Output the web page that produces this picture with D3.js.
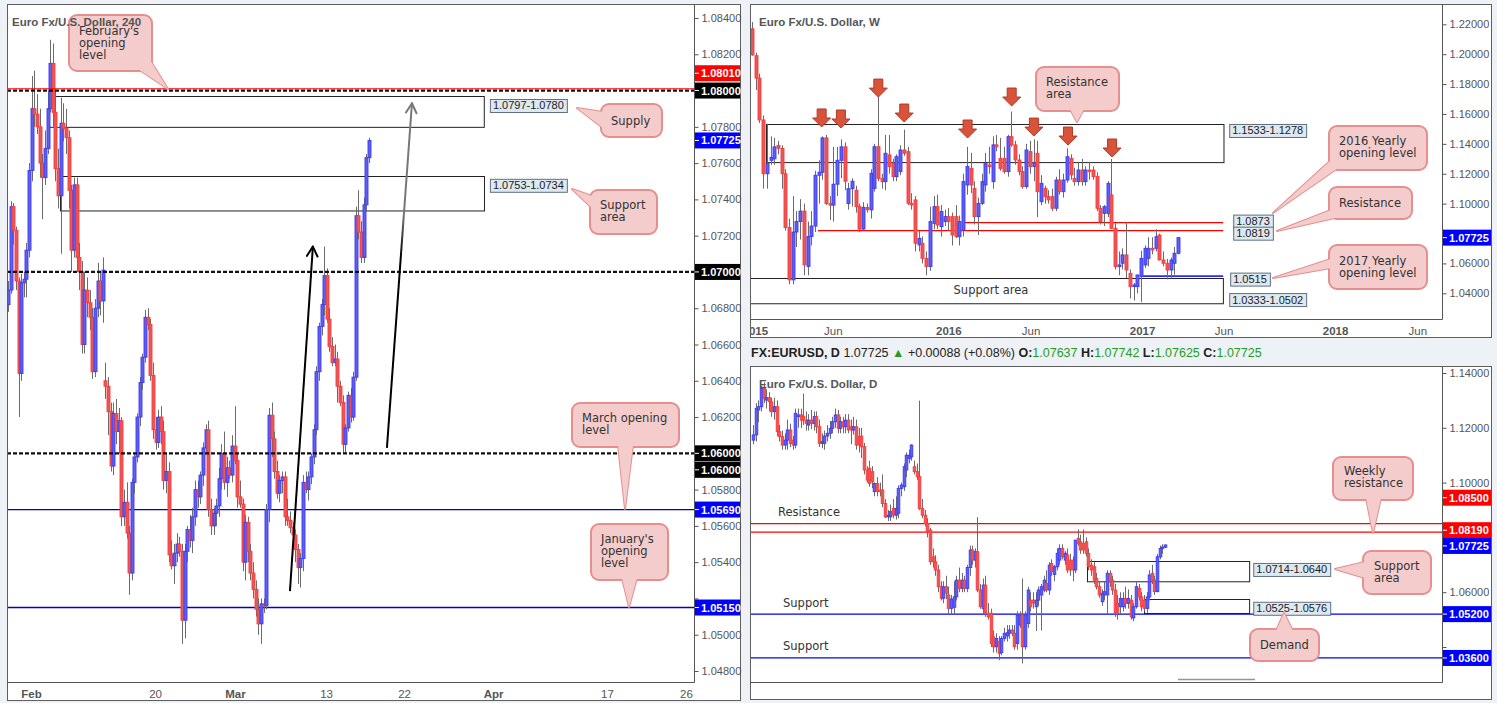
<!DOCTYPE html>
<html>
<head>
<meta charset="utf-8">
<script src="https://cdn.jsdelivr.net/npm/d3@7/dist/d3.min.js"></script>
<style>
  body { margin: 0; background: #eef1f5; }
  svg { display: block; }
</style>
</head>
<body>
<svg id="chart" width="1497" height="703"></svg>
<script>
// ---------- data: candles as [open, high, low, close] in pips above 1.0000 ----------
const h4Candles = [
  [682,695,678,690],[690,739,688,736],[736,738,715,723],[723,725,690,695],[695,697,620,644],
  [644,699,640,694],[694,700,686,696],[696,716,686,712],[712,760,708,756],[756,808,750,790],
  [790,811,780,787],[787,798,776,780],[780,790,752,760],[760,765,729,752],[752,778,748,768],
  [768,800,765,790],[790,828,788,815],[815,826,780,788],[788,800,750,757],[757,768,735,742],
  [742,796,710,782],[782,793,772,779],[779,790,765,774],[774,778,735,745],[745,748,700,712],
  [712,752,708,748],[748,752,700,708],[708,716,690,700],[700,706,655,660],[660,700,655,690],
  [690,697,675,683],[683,690,668,675],[675,680,641,645],[645,685,642,680],[680,705,675,695],
  [695,700,676,684],[684,708,672,701],[640,650,630,637],[637,642,610,623],[623,628,590,593],
  [593,628,588,622],[622,630,605,612],[612,625,600,618],[618,620,560,565],[565,580,560,573],
  [573,584,553,556],[556,560,522,534],[534,586,530,584],[584,600,578,598],[598,622,595,620],
  [620,642,615,639],[639,655,635,653],[653,679,650,675],[675,680,668,671],[671,674,640,643],
  [643,650,608,613],[613,620,602,606],[606,624,603,620],[620,626,605,612],[612,618,580,585],
  [585,600,578,590],[590,595,540,544],[544,552,536,538],[538,550,528,545],[545,556,540,550],
  [550,554,543,546],[546,550,495,508],[508,550,498,546],[546,560,540,558],[558,566,548,552],
  [552,570,545,565],[565,585,560,580],[580,585,570,576],[576,590,572,588],[588,606,582,603],
  [603,616,600,613],[613,618,565,569],[569,575,555,560],[560,570,555,567],[567,575,560,571],
  [571,592,565,586],[586,605,580,600],[600,612,580,584],[584,598,576,592],[592,596,586,588],
  [588,610,584,604],[604,626,594,596],[596,600,570,576],[576,585,570,572],[572,575,535,540],
  [540,566,530,562],[562,565,540,546],[546,550,530,534],[534,540,520,525],[525,530,510,514],
  [514,520,500,506],[506,520,495,517],[517,520,512,516],[516,572,514,569],[569,625,562,621],
  [621,628,598,608],[608,612,586,590],[590,596,575,578],[578,588,573,585],[585,590,578,587],
  [587,590,560,565],[565,575,560,563],[563,568,556,559],[559,562,550,555],[555,558,540,547],
  [547,550,528,537],[537,545,526,542],[542,588,535,584],[584,590,578,580],[580,590,574,587],
  [587,600,583,598],[598,616,594,613],[613,648,610,645],[645,672,640,670],[670,685,665,682],
  [682,714,676,698],[698,702,672,674],[674,680,656,659],[659,664,648,650],[650,660,648,652],
  [652,656,628,637],[637,640,626,628],[628,632,600,605],[605,616,600,614],[614,634,612,632],
  [632,636,617,620],[620,645,618,642],[642,736,640,731],[731,745,718,722],[722,728,705,708],
  [708,741,705,737],[737,765,733,763],[763,774,760,772.5]
];
const weeklyCandles = [
  [2170,2215,1990,1995],[1990,2010,1760,1840],[1840,1870,1540,1560],[1560,1590,1100,1200],[1200,1535,1100,1270],
  [1290,1450,1260,1310],[1300,1440,1260,1380],[1390,1420,1330,1370],[1370,1390,1100,1200],[1200,1230,820,840],
  [840,900,460,490],[490,1050,460,810],[810,950,710,880],[880,1030,760,950],[950,1000,520,590],
  [580,880,520,780],[780,950,720,850],[850,1220,810,1190],[1190,1290,1000,1210],[1210,1450,1160,1440],
  [1440,1460,990,1000],[1000,1050,890,990],[990,1380,880,1130],[1130,1380,1050,1290],[1290,1430,1170,1380],
  [1380,1410,1090,1150],[1000,1140,960,1100],[1100,1170,980,1150],[1090,1120,940,980],[980,1000,810,830],
  [830,1010,820,975],[975,1000,940,960],[958,1230,900,1203],[1102,1400,1080,1381],[1381,1714,1150,1169],
  [1169,1200,1100,1147],[1147,1460,1090,1337],[1326,1460,1200,1248],[1270,1300,1150,1181],[1181,1330,1150,1314],
  [1214,1390,1190,1359],[1359,1495,1320,1337],[1348,1380,990,1002],[1002,1070,960,991],[1025,1050,680,735],
  [724,820,680,768],[735,780,600,634],[634,680,520,579],[579,980,550,880],[868,1050,830,980],
  [980,1060,830,857],[846,990,780,947],[880,960,850,913],[913,970,820,880],[913,940,720,790],
  [913,990,770,779],[779,920,720,880],[824,1200,780,1147],[1125,1380,1060,1248],[1236,1340,1070,1125],
  [1102,1150,860,913],[913,1040,790,1002],[1002,1200,990,1147],[1125,1340,1080,1270],[1259,1380,1200,1248],
  [1147,1450,1100,1393],[1393,1460,1350,1381],[1303,1440,1220,1236],[1303,1380,1200,1214],[1214,1460,1180,1448],
  [1448,1616,1380,1393],[1393,1420,1260,1292],[1292,1330,1190,1214],[1214,1250,1100,1114],[1114,1400,1100,1359],
  [1348,1420,1200,1248],[1248,1430,1150,1270],[1337,1420,910,1080],[1013,1190,990,1136],[1102,1120,1000,1047],
  [1047,1090,1000,1025],[1047,1100,950,969],[969,1180,950,1158],[1158,1230,1060,1080],[1080,1200,1040,1158],
  [1158,1370,1140,1314],[1303,1330,1160,1192],[1169,1240,1120,1147],[1147,1280,1120,1225],[1225,1300,1120,1147],
  [1147,1250,1120,1225],[1225,1280,1160,1214],[1225,1250,1160,1181],[1181,1210,950,969],[969,990,860,880],
  [935,990,850,980],[935,1150,910,1136],[1058,1299,830,835],[835,870,560,579],[579,680,520,590],
  [601,700,560,657],[657,874,500,556],[534,560,366,445],[445,470,352,456],[445,520,400,523],
  [512,684,341,634],[590,720,570,701],[634,775,580,701],[701,775,660,690],[701,829,680,779],
  [790,800,620,623],[623,680,580,601],[601,630,493,556],[556,640,495,623],[601,710,525,668],
  [668,774,660,772.5]
];
const dailyCandles = [
  [1155,1210,1140,1174],[1174,1290,1150,1271],[1265,1300,1220,1277],[1277,1352,1260,1344],[1344,1366,1290,1307],
  [1301,1340,1270,1310],[1310,1330,1260,1295],[1295,1310,1240,1259],[1259,1310,1230,1277],[1277,1300,1170,1186],
  [1186,1210,1150,1168],[1168,1190,1120,1137],[1137,1180,1120,1155],[1155,1230,1120,1192],[1192,1215,1130,1143],
  [1155,1170,1120,1137],[1137,1270,1125,1253],[1241,1270,1200,1247],[1247,1270,1200,1228],[1241,1325,1210,1228],
  [1228,1260,1190,1216],[1210,1250,1190,1228],[1228,1265,1195,1216],[1216,1260,1190,1241],[1241,1260,1180,1204],
  [1204,1230,1130,1143],[1143,1180,1125,1150],[1143,1190,1120,1170],[1170,1210,1150,1180],[1180,1225,1160,1198],
  [1198,1240,1180,1222],[1222,1270,1200,1247],[1247,1265,1180,1198],[1198,1240,1180,1222],[1222,1240,1180,1204],
  [1204,1250,1180,1228],[1228,1250,1180,1192],[1204,1230,1140,1192],[1192,1240,1175,1204],[1204,1230,1120,1137],
  [1168,1200,1110,1137],[1170,1200,1090,1131],[1131,1145,1030,1046],[1046,1060,1000,1009],[1052,1080,985,997],
  [1040,1060,980,1003],[967,1000,950,997],[997,1020,950,967],[973,1000,950,967],[973,1030,910,924],
  [924,940,870,875],[875,900,860,881],[875,920,860,894],[906,940,870,881],[881,950,865,906],
  [888,990,870,979],[979,1000,950,991],[985,1070,970,1058],[1046,1110,1020,1100],[1088,1120,1070,1100],
  [1094,1140,1080,1137],[1058,1080,1030,1040],[1040,1070,1010,1022],[1022,1299,900,906],[906,940,870,881],
  [881,900,840,851],[851,870,800,821],[827,835,700,711],[729,760,690,711],[711,735,660,681],
  [681,700,600,620],[620,640,570,578],[578,640,560,620],[620,660,575,596],[590,620,520,541],
  [541,590,520,575],[545,640,520,583],[583,660,570,644],[644,690,600,614],[614,670,600,644],
  [644,660,600,614],[614,700,600,690],[690,770,660,754],[754,770,700,717],[717,760,690,748],
  [748,874,600,608],[608,630,540,547],[540,650,520,626],[626,660,510,523],[523,560,500,510],
  [523,540,400,413],[437,460,380,401],[401,450,380,431],[420,440,352,376],[380,440,370,431],
  [431,470,420,450],[440,480,420,452],[450,480,430,462],[462,480,440,450],[450,480,390,401],
  [413,530,390,517],[480,530,470,517],[517,650,340,401],[401,530,390,517],[486,620,470,608],
  [571,600,530,547],[571,600,540,560],[547,600,458,571],[571,620,550,608],[590,630,460,620],
  [608,660,600,644],[632,680,600,608],[608,710,590,699],[705,720,660,675],[665,700,640,693],
  [693,760,680,742],[717,775,700,760],[760,775,720,729],[717,750,700,742],[736,760,670,681],
  [717,740,660,681],[717,730,640,681],[681,790,670,790],[796,829,770,778],[784,810,740,754],
  [778,829,740,754],[784,800,730,742],[742,760,680,693],[699,720,660,681],[693,710,630,644],
  [650,670,610,620],[620,640,580,590],[565,610,550,596],[590,640,570,602],[590,680,520,669],
  [669,680,620,638],[644,660,590,608],[608,630,510,523],[559,590,500,523],[547,600,520,577],
  [547,600,530,577],[577,620,540,559],[559,610,540,577],[571,590,500,510],[506,560,494,547],
  [547,640,540,620],[614,630,570,583],[583,600,530,547],[571,590,530,541],[541,600,525,583],
  [583,680,570,663],[669,700,630,644],[644,660,590,602],[602,740,600,729],[729,770,720,760],
  [760,775,740,765],[763.7,774.2,762.5,772.5]
];

// ---------- axes ----------
const h4YTicks = [1.048,1.050,1.052,1.054,1.056,1.058,1.060,1.062,1.064,1.066,1.068,1.070,1.072,1.074,1.076,1.078,1.080,1.082,1.084];
const weeklyYTicks = [1.04,1.06,1.08,1.10,1.12,1.14,1.16,1.18,1.20,1.22];
const dailyYTicks = [1.04,1.06,1.08,1.10,1.12,1.14];

const h4XLabels = ["Feb","20","Mar","13","22","Apr","17","26"];
const h4XBars = [8.7,55.8,86.1,120.7,150.3,184.1,227.3,257.3];
const h4XBold = [true,false,true,false,false,true,false,false];
const weeklyXLabels = ["2015","Jun","2016","Jun","2017","Jun","2018","Jun"];
const weeklyXBars = [0.75,21.8,53.0,75.2,105.3,127.3,157.4,179.6];
const weeklyXBold = [true,false,true,false,true,false,true,false];
const dailyXLabels = ["Oct","14","2017","Mar","May","Jul"];
const dailyXBars = [36,66.7,102.3,144.3,188.3,234.5];
const dailyXBold = [false,false,true,false,false,false];

// ---------- levels, zones, tags (pips above 1.0000) ----------
const h4DashedLevels = [800,700,600];
const h4RedLevels = [801];
const h4BlueLevels = [569,515];
const h4Zones = [[15.6,180.6,797,780],[19.7,180.6,753,734]];
const h4ZoneText = ["1.0797-1.0780","1.0753-1.0734"];
const h4Tags = [801,800,772.5,700,600,600,569,515];
const h4TagText = ["1.08010","1.08000","1.07725","1.07000","1.06000","1.06000","1.05690","1.05150"];
const h4TagColor = ["#ff0000","#000000","#0000ff","#000000","#000000","#000000","#0000ff","#0000ff"];
const h4Arrows = [[107.0,524,115.7,714],[143.8,603,153.3,793]];

const weeklyZones = [[3.7,127.2,1533,1278],[-1,127.2,502,333]];
const weeklyRed = [[57.1,127.2,873],[17.8,127.2,819]];
const weeklyBlue = [[105.1,127.2,515]];
const weeklyArrowBars = [18.8,24.0,34.1,41.1,58.2,70.1,76.1,85.3,97.2];
const weeklyArrowTips = [1513,1506,1713,1546,1439,1653,1452,1392,1312];

const dailyRed = [850,819];
const dailyBlue = [520,360];
const dailyZones = [[126.5,187.9,714,640],[148.1,187.9,576,525]];
const dailyTags = [850,819,772.5,520,360];
const dailyTagText = ["1.08500","1.08190","1.07725","1.05200","1.03600"];
const dailyTagColor = ["#ff0000","#ff0000","#0000ff","#0000ff","#0000ff"];

// ---------- drawing ----------
const P = v => 1 + v / 10000;
const SANS = "'Liberation Sans', Arial, sans-serif";
const CALL = "'DejaVu Sans', Verdana, sans-serif";
const svg = d3.select("#chart");
svg.append("rect").attr("width", 1497).attr("height", 703).attr("fill", "#eef1f5");
const defs = svg.append("defs");

function buildPanel(p) {
  const [ox0, oy0, ox1, oy1] = p.outer;
  const [qx0, qy0, qx1, qy1] = p.plot;
  const g = svg.append("g");
  g.append("rect").attr("x", ox0 + 0.5).attr("y", oy0 + 0.5)
    .attr("width", ox1 - ox0 - 1).attr("height", oy1 - oy0 - 1)
    .attr("fill", "#fff").attr("stroke", "#5e5e5e");

  defs.append("clipPath").attr("id", "clip-" + p.id)
    .append("rect").attr("x", qx0 + 1).attr("y", qy0 + 1).attr("width", qx1 - qx0 - 1).attr("height", qy1 - qy0 - 1);
  defs.append("clipPath").attr("id", "outer-" + p.id)
    .append("rect").attr("x", ox0 + 1).attr("y", oy0 + 1).attr("width", ox1 - ox0 - 2).attr("height", oy1 - oy0 - 2);

  const x = d3.scaleLinear().domain(p.xDomain).range(p.xRange);
  const y = d3.scaleLinear().domain(p.yDomain).range(p.yRange);

  g.append("line").attr("x1", qx1 + 0.5).attr("x2", qx1 + 0.5).attr("y1", oy0).attr("y2", qy1 + 0.5).attr("stroke", "#555");
  g.append("line").attr("x1", ox0).attr("x2", qx1 + 0.5).attr("y1", qy1 + 0.5).attr("y2", qy1 + 0.5).attr("stroke", "#555");

  const ya = g.append("g").attr("transform", `translate(${qx1 + 0.5},0)`)
    .call(d3.axisRight(y).tickValues(p.yTicks).tickFormat(d3.format(".5f")).tickSize(4).tickPadding(3));
  ya.select(".domain").remove();
  ya.attr("font-family", SANS).attr("font-size", 11);
  ya.selectAll("line").attr("stroke", "#555");
  ya.selectAll("text").attr("fill", "#555");

  const xa = g.append("g").attr("transform", `translate(0,${qy1 + 0.5})`).attr("clip-path", `url(#outer-${p.id})`)
    .call(d3.axisBottom(x).tickValues(p.xBars).tickFormat((d, i) => p.xLabels[i]).tickSize(4).tickPadding(3));
  xa.select(".domain").remove();
  xa.attr("font-family", SANS).attr("font-size", 11.5);
  xa.selectAll("line").attr("stroke", "#555");
  xa.selectAll("text").attr("fill", "#555").attr("font-weight", (d, i) => p.xBold[i] ? "bold" : "normal");

  const inner = g.append("g").attr("clip-path", `url(#clip-${p.id})`);
  return { g, inner, x, y, p, ya };
}

function drawCandles(panel, data, bw) {
  const { inner, x, y } = panel;
  const c = inner.append("g").selectAll("g").data(data).join("g");
  c.append("line")
    .attr("x1", (d, i) => Math.round(x(i)) + 0.5).attr("x2", (d, i) => Math.round(x(i)) + 0.5)
    .attr("y1", d => y(P(d[1]))).attr("y2", d => y(P(d[2])))
    .attr("stroke", "#6b6b6b").attr("stroke-width", 1);
  c.append("rect")
    .attr("x", (d, i) => Math.round(x(i)) + 0.5 - bw / 2)
    .attr("y", d => y(P(Math.max(d[0], d[3]))))
    .attr("width", bw)
    .attr("height", d => Math.max(1, Math.abs(y(P(d[0])) - y(P(d[3])))))
    .attr("fill", d => d[3] >= d[0] ? "#6060e6" : "#e25a5a")
    .attr("stroke", d => d[3] >= d[0] ? "#3a3aff" : "#ff3a3a")
    .attr("stroke-width", 0.9);
}

function hLine(panel, v, color, width, dash, from, to) {
  const { inner, x, y, p } = panel;
  const yy = y(P(v));
  inner.append("line")
    .attr("x1", from == null ? p.plot[0] : x(from)).attr("x2", to == null ? p.plot[2] : x(to))
    .attr("y1", yy).attr("y2", yy)
    .attr("stroke", color).attr("stroke-width", width)
    .attr("stroke-dasharray", dash || null);
}

function zoneRect(panel, z) {
  const { inner, x, y } = panel;
  inner.append("rect")
    .attr("x", Math.round(x(z[0])) + 0.5).attr("y", Math.round(y(P(z[2]))) + 0.5)
    .attr("width", x(z[1]) - x(z[0])).attr("height", y(P(z[3])) - y(P(z[2])))
    .attr("fill", "none").attr("stroke", "#222").attr("stroke-width", 1);
}

function priceBox(g, xx, yy, txt) {
  const b = g.append("g");
  const t = b.append("text").attr("x", xx + 3).attr("y", yy + 10.5)
    .attr("font-family", SANS).attr("font-size", 11).attr("fill", "#222").text(txt);
  const w = t.node().getComputedTextLength();
  b.insert("rect", "text").attr("x", xx + 0.5).attr("y", yy + 0.5).attr("width", w + 6).attr("height", 13)
    .attr("fill", "#dde8f1").attr("stroke", "#5d7182");
}

function tag(panel, v, txt, color, nudge) {
  const { g, y, p, ya } = panel;
  const yy = y(P(v)) + (nudge || 0);
  // price labels that sit under the tag are covered in the original
  ya.selectAll(".tick").filter(d => Math.abs(y(d) - yy) < 11.5).select("text").attr("display", "none");
  g.append("rect").attr("x", p.plot[2] + 1).attr("y", yy - 8).attr("width", p.outer[2] - p.plot[2] - 2).attr("height", 16)
    .attr("fill", color);
  g.append("line").attr("x1", p.plot[2] + 1).attr("x2", p.plot[2] + 5).attr("y1", yy).attr("y2", yy).attr("stroke", "#fff");
  g.append("text").attr("x", p.plot[2] + 7).attr("y", yy + 4)
    .attr("font-family", SANS).attr("font-size", 11).attr("font-weight", "bold").attr("fill", "#fff").text(txt);
}

function callout(g, box, base, tip, lines, tx, ty) {
  const st = { fill: "#f4cccc", stroke: "#e58f8f" };
  const tail = [base[0], tip, base[1]];
  g.append("polygon").attr("points", tail.map(q => q.join(",")).join(" "))
    .attr("fill", st.fill).attr("stroke", st.stroke).attr("stroke-width", 2).attr("stroke-linejoin", "round");
  g.append("rect").attr("x", box[0]).attr("y", box[1]).attr("width", box[2] - box[0]).attr("height", box[3] - box[1])
    .attr("rx", 8).attr("fill", st.fill).attr("stroke", st.stroke).attr("stroke-width", 2);
  g.append("polygon").attr("points", tail.map(q => q.join(",")).join(" ")).attr("fill", st.fill);
  lines.forEach((s, i) => {
    g.append("text").attr("x", tx).attr("y", ty + i * 12)
      .attr("font-family", CALL).attr("font-size", 11.5).attr("fill", "#333").text(s);
  });
}

function title(g, xx, yy, txt) {
  g.append("text").attr("x", xx).attr("y", yy).attr("font-family", SANS).attr("font-size", 11.5)
    .attr("font-weight", "bold").attr("fill", "#555").text(txt);
}

// ===== left: 4H =====
const h4 = buildPanel({
  id: "h4", outer: [7, 4, 741, 701], plot: [7, 4, 694, 682],
  xDomain: [0, 137], xRange: [8, 369], yDomain: [1.048, 1.084], yRange: [671, 18],
  yTicks: h4YTicks, xLabels: h4XLabels, xBars: h4XBars, xBold: h4XBold
});
h4BlueLevels.forEach(v => hLine(h4, v, "#0000cc", 1.3));
h4Zones.forEach(z => zoneRect(h4, z));
drawCandles(h4, h4Candles, 3);
h4RedLevels.forEach(v => hLine(h4, v, "#ff0000", 1.2));
h4DashedLevels.forEach(v => hLine(h4, v, "#111", 2.2, "4,2"));

const grad = defs.append("linearGradient").attr("id", "fade").attr("gradientUnits", "userSpaceOnUse")
  .attr("x1", h4.x(h4Arrows[1][0])).attr("y1", h4.y(P(h4Arrows[1][1])))
  .attr("x2", h4.x(h4Arrows[1][2])).attr("y2", h4.y(P(h4Arrows[1][3])));
grad.append("stop").attr("offset", 0).attr("stop-color", "#000");
grad.append("stop").attr("offset", 0.55).attr("stop-color", "#000");
grad.append("stop").attr("offset", 0.68).attr("stop-color", "#777");
grad.append("stop").attr("offset", 1).attr("stop-color", "#777");
h4Arrows.forEach((a, k) => {
  const x1 = h4.x(a[0]), y1 = h4.y(P(a[1])), x2 = h4.x(a[2]), y2 = h4.y(P(a[3]));
  const col = k === 0 ? "#000" : "url(#fade)";
  const headCol = k === 0 ? "#000" : "#777";
  h4.inner.append("line").attr("x1", x1).attr("y1", y1).attr("x2", x2).attr("y2", y2)
    .attr("stroke", col).attr("stroke-width", 2);
  const ang = Math.atan2(y2 - y1, x2 - x1);
  [-0.5, 0.5].forEach(dA => {
    h4.inner.append("line").attr("x1", x2).attr("y1", y2)
      .attr("x2", x2 - 11 * Math.cos(ang + dA)).attr("y2", y2 - 11 * Math.sin(ang + dA))
      .attr("stroke", headCol).attr("stroke-width", 2).attr("stroke-linecap", "round");
  });
});
h4Zones.forEach((z, i) => priceBox(h4.g, h4.x(z[1]) + 6, h4.y(P(z[2])) + 3, h4ZoneText[i]));
const h4Nudge = [-15.5, 0, 0, 0, 0, 16.5, 0, 0];
h4Tags.forEach((v, i) => tag(h4, v, h4TagText[i], h4TagColor[i], h4Nudge[i]));

callout(h4.g, [69, 15, 152, 71], [[138, 69], [150, 60]], [168, 89], ["February's", "opening", "level"], 79, 35);
callout(h4.g, [601, 104, 662, 137], [[603, 112], [603, 128]], [577, 108], ["Supply"], 611, 125);
callout(h4.g, [590, 190, 657, 234], [[592, 196], [592, 208]], [572, 189], ["Support", "area"], 600, 209);
callout(h4.g, [572, 403, 679, 447], [[618, 445], [633, 445]], [625, 509], ["March opening", "level"], 582, 422);
callout(h4.g, [591, 524, 668, 580], [[622, 578], [637, 578]], [629, 607], ["January's", "opening", "level"], 601, 543);
title(h4.g, 12, 26, "Euro Fx/U.S. Dollar, 240");

// ===== top right: weekly =====
const wk = buildPanel({
  id: "wk", outer: [750, 4, 1492, 338], plot: [750, 4, 1442, 319],
  xDomain: [0, 115], xRange: [752, 1178], yDomain: [1.04, 1.22], yRange: [293.3, 24.3],
  yTicks: weeklyYTicks, xLabels: weeklyXLabels, xBars: weeklyXBars, xBold: weeklyXBold
});
weeklyZones.forEach(z => zoneRect(wk, z));
weeklyRed.forEach(r => hLine(wk, r[2], "#ff0000", 1.3, null, r[0], r[1]));
weeklyBlue.forEach(r => hLine(wk, r[2], "#2a2aff", 1.6, null, r[0], r[1]));
drawCandles(wk, weeklyCandles, 3);
wk.inner.append("text").attr("x", wk.x(64.5)).attr("y", wk.y(P(420)) + 4).attr("text-anchor", "middle")
  .attr("font-family", CALL).attr("font-size", 11.5).attr("fill", "#333").text("Support area");
weeklyArrowBars.forEach((b, i) => {
  const cx = wk.x(b), ty = wk.y(P(weeklyArrowTips[i]));
  const pts = [[cx, ty], [cx - 9, ty - 9], [cx - 4.5, ty - 9], [cx - 4.5, ty - 18], [cx + 4.5, ty - 18], [cx + 4.5, ty - 9], [cx + 9, ty - 9]];
  wk.g.append("polygon").attr("points", pts.map(q => q.join(",")).join(" "))
    .attr("fill", "#d9533b").attr("stroke", "#b13a26").attr("stroke-width", 1);
});
priceBox(wk.g, wk.x(127.2) + 6, wk.y(P(1533)), "1.1533-1.1278");
priceBox(wk.g, wk.x(127.2) + 10, wk.y(P(873)) - 8, "1.0873");
priceBox(wk.g, wk.x(127.2) + 10, wk.y(P(819)) - 4, "1.0819");
priceBox(wk.g, wk.x(127.2) + 7, wk.y(P(515)) - 3.5, "1.0515");
priceBox(wk.g, wk.x(127.2) + 6, wk.y(P(502)) + 15, "1.0333-1.0502");
tag(wk, 772.5, "1.07725", "#0000ff", 0);
callout(wk.g, [1036, 67, 1119, 111], [[1070, 109], [1084, 109]], [1077, 122], ["Resistance", "area"], 1046, 86);
callout(wk.g, [1329, 126, 1427, 170], [[1331, 160], [1338, 168]], [1273, 213], ["2016 Yearly", "opening level"], 1339, 145);
callout(wk.g, [1329, 187, 1412, 219], [[1331, 210], [1339, 217]], [1277, 231], ["Resistance"], 1339, 207);
callout(wk.g, [1329, 245, 1427, 289], [[1331, 259], [1331, 268]], [1273, 278], ["2017 Yearly", "opening level"], 1339, 265);
title(wk.g, 759, 26, "Euro Fx/U.S. Dollar, W");

// ===== bottom right: daily =====
const dy = buildPanel({
  id: "dy", outer: [750, 366, 1492, 700], plot: [750, 366, 1442, 682],
  xDomain: [0, 156], xRange: [753, 1165], yDomain: [1.04, 1.14], yRange: [647, 373],
  yTicks: dailyYTicks, xLabels: dailyXLabels, xBars: dailyXBars, xBold: dailyXBold
});
dailyZones.forEach(z => zoneRect(dy, z));
dailyRed.forEach(v => hLine(dy, v, "#ff0000", 1.3));
dailyBlue.forEach(v => hLine(dy, v, "#0000ee", 1.3));
drawCandles(dy, dailyCandles, 2.6);
dy.g.append("line").attr("x1", 1178).attr("x2", 1255).attr("y1", 679.5).attr("y2", 679.5)
  .attr("stroke", "#8b98a5").attr("stroke-width", 1.5);
[["Resistance", 850, 778, 12], ["Support", 520, 783, 11], ["Support", 360, 783, 12]].forEach(t => {
  dy.inner.append("text").attr("x", t[2]).attr("y", dy.y(P(t[1])) - t[3] + 4)
    .attr("font-family", CALL).attr("font-size", 11.5).attr("fill", "#333").text(t[0]);
});
priceBox(dy.g, dy.x(187.9) + 4, dy.y(P(714)) + 2, "1.0714-1.0640");
priceBox(dy.g, dy.x(187.9) + 4, dy.y(P(576)) + 3, "1.0525-1.0576");
const dyNudge = [-26, -2, 1, 0, 0];
dailyTags.forEach((v, i) => tag(dy, v, dailyTagText[i], dailyTagColor[i], dyNudge[i]));
callout(dy.g, [1333, 457, 1413, 500], [[1366, 498], [1381, 498]], [1373, 533], ["Weekly", "resistance"], 1344, 475);
callout(dy.g, [1363, 551, 1431, 594], [[1365, 562], [1365, 578]], [1335, 569], ["Support", "area"], 1374, 570);
callout(dy.g, [1250, 629, 1319, 661], [[1276, 631], [1293, 631]], [1284, 613], ["Demand"], 1260, 649);
title(dy.g, 759, 388, "Euro Fx/U.S. Dollar, D");

// ===== daily header line =====
const hdr = svg.append("text").attr("x", 751).attr("y", 357).attr("font-family", SANS).attr("font-size", 12.5)
  .style("white-space", "pre").attr("fill", "#222");
[["FX:EURUSD, D", "bold", "#222"], [" 1.07725 ", "normal", "#222"], ["\u25B2", "normal", "#1f9e1f"],
 [" +0.00088 (+0.08%) ", "normal", "#222"], ["O:", "bold", "#222"], ["1.07637", "normal", "#1f9e1f"],
 [" H:", "bold", "#222"], ["1.07742", "normal", "#1f9e1f"], [" L:", "bold", "#222"], ["1.07625", "normal", "#1f9e1f"],
 [" C:", "bold", "#222"], ["1.07725", "normal", "#1f9e1f"]].forEach(s => {
  hdr.append("tspan").attr("font-weight", s[1]).attr("fill", s[2]).text(s[0]);
});
</script>
</body>
</html>
